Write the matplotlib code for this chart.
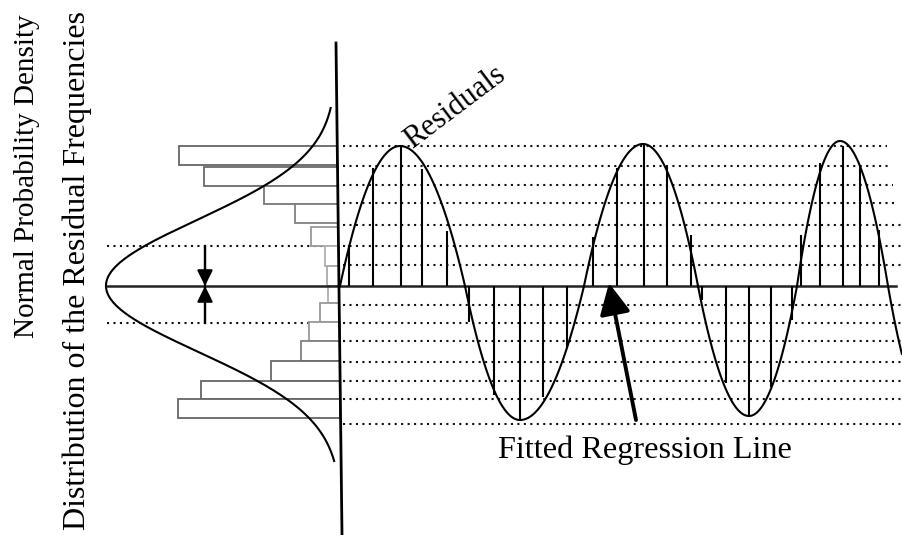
import numpy as np
import matplotlib.pyplot as plt

# vertical scale: 0 = fitted regression line, positive = residual above it
# histogram of residual frequencies (bins along the vertical axis)
bar_top = [140, 119, 100, 82, 59, 40, 20, 0, -17, -36, -55, -75, -95, -113]
bar_bottom = [121, 100, 82, 63, 40, 20, 0, -17, -36, -55, -75, -95, -113, -132]
bar_freq = [158, 134, 74, 43, 27, 14, 12, 11, 19, 31, 39, 69, 139, 162]
bar_edge = ['#666666', '#6a6a6a', '#777777', '#808080', '#999999', '#b0b0b0', '#aaaaaa',
            '#b0b0b0', '#999999', '#999999', '#808080', '#6a6a6a', '#666666', '#666666']

# dotted levels (bin edges) and where they stop on the right
grid_levels = [140, 120, 101, 83, 61, 40, 21, -19, -37, -55, -76, -95, -113, -138]
grid_end = [887, 890, 893, 895, 902, 902, 902, 902, 902, 902, 902, 902, 902, 902]
sigma_levels = [40, -37]

# residuals: position along x and value
resid_x = [349, 373, 401, 422, 447, 469, 494, 520, 543, 567, 593, 617, 644, 667, 691,
           702, 726, 749, 771, 792, 801, 820, 843, 860, 879]
resid_val = [41, 118, 140, 117, 55, -36, -109, -134, -111, -62, 49, 118, 141, 119, 51,
             -14, -97, -130, -101, -34, 51, 123, 140, 119, 56]

# wave: baseline crossings and the extreme of each lobe
cross_x = [340, 465, 584, 698, 797, 888, 985]
peak_x = [400, 520, 643, 749, 840, 935]
peak_val = [140, -134, 142, -130, 145, -135]

fig = plt.figure(figsize=(9.02, 5.35), dpi=100)
ax = fig.add_axes([0, 0, 1, 1])
ax.set_xlim(0, 902)
ax.set_ylim(-249, 286)
ax.axis('off')

def axis_x(v):
    # the vertical axis leans slightly to the right going down
    return 336 + ((286 - np.asarray(v)) - 43) * 6 / 492

# histogram bars
for top, bot, w, ec in zip(bar_top, bar_bottom, bar_freq, bar_edge):
    right = axis_x((top + bot) / 2)
    ax.barh((top + bot) / 2, w, height=top - bot, left=right - w,
            color='white', edgecolor=ec, lw=1.3, zorder=2)

# dotted lines
for lev, end in zip(grid_levels, grid_end):
    ax.plot([343, end], [lev, lev], color='#111111', lw=1.5,
            ls=(0, (1, 2.1)), zorder=1)
for lev in sigma_levels:
    ax.plot([107, 336], [lev, lev], color='#111111', lw=1.5,
            ls=(0, (1, 2.1)), zorder=1)

# normal density curve hanging off the axis
ry = np.linspace(178, -175, 300)
ax.plot(axis_x(ry) - 233 * np.exp(-ry ** 2 / (2 * 66 ** 2)), ry,
        color='black', lw=1.5, zorder=3)

# fitted regression line and vertical axis
ax.plot([107, 896], [0, 0], color='#222222', lw=1.8, zorder=4)
ax.plot([336, 342], [286 - 43, 286 - 535], color='black', lw=2.0, zorder=5)

# +/- sigma marker
ax.plot([205, 205], [sigma_levels[0], sigma_levels[1]], color='black', lw=1.6, zorder=4)
for lev in sigma_levels:
    ax.annotate('', xy=(205, 0), xytext=(205, lev),
                arrowprops=dict(arrowstyle='-|>,head_length=0.95,head_width=0.47',
                                mutation_scale=10, color='black', lw=1.6,
                                shrinkA=0, shrinkB=0), zorder=5)

# residual wave, built lobe by lobe
for c0, c1, p, a in zip(cross_x[:-1], cross_x[1:], peak_x, peak_val):
    xs = np.linspace(c0, c1, 120)
    h = np.where(xs < p, p - c0, c1 - p)
    ys = a * (1 - ((xs - p) / h) ** 2)
    keep = xs <= 902
    ax.plot(xs[keep], ys[keep], color='black', lw=1.5, zorder=4)

# residual sticks
ax.vlines(resid_x, 0, resid_val, color='black', lw=1.5, zorder=4)

# arrow to the fitted line
ax.annotate('', xy=(609, 3), xytext=(636, -134),
            arrowprops=dict(arrowstyle='-|>,head_length=0.95,head_width=0.47',
                            mutation_scale=20, color='black', lw=2.8,
                            shrinkA=0, shrinkB=0), zorder=6)

serif = 'Liberation Serif'
ax.text(645, -172, 'Fitted Regression Line', fontsize=23.2, family=serif,
        ha='center', va='baseline')
ax.text(455, 179, 'Residuals', fontsize=22, family=serif, rotation=37,
        rotation_mode='anchor', ha='center', va='center')
ax.text(27, 110, 'Normal Probability Density', fontsize=21, family=serif,
        rotation=90, ha='center', va='center')
ax.text(77, 15, 'Distribution of the Residual Frequencies', fontsize=23, family=serif,
        rotation=90, ha='center', va='center')

fig.savefig('out.png', dpi=100)
